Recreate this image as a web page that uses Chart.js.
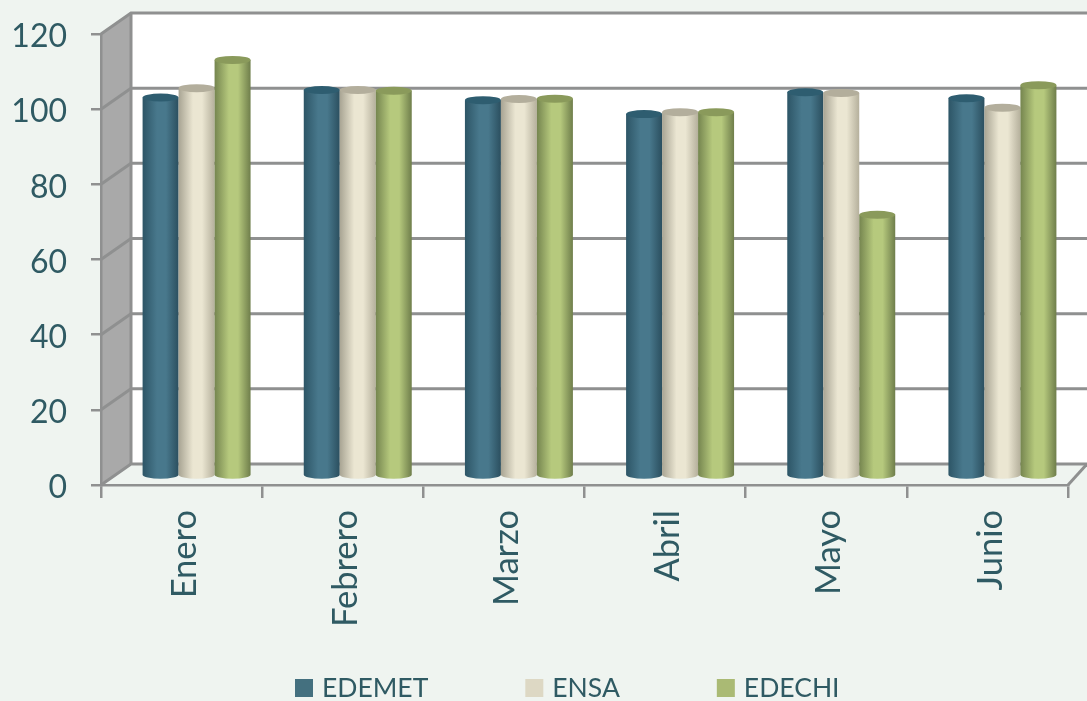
<!DOCTYPE html>
<html>
<head>
<meta charset="utf-8">
<title>Chart</title>
<script src="https://cdn.jsdelivr.net/npm/chart.js@4"></script>
<style>
    html, body { margin: 0; padding: 0; background: #eff4f0; overflow: hidden; }
    canvas { display: block; }
</style>
</head>
<body>
<canvas id="barTes" width="1087" height="701"></canvas>
<script>
var categories = ["Enero", "Febrero", "Marzo", "Abril", "Mayo", "Junio"];
var seriesNames = ["EDEMET", "ENSA", "EDECHI"];
var edemet = [100.7, 102.7, 100, 96.3, 102.1, 100.5];
var ensa = [103.2, 102.7, 100.3, 96.8, 101.9, 98];
var edechi = [110.7, 102.5, 100.4, 96.8, 69.5, 104];
var yTicks = [0, 20, 40, 60, 80, 100, 120];

var legendColors = ["#44707f", "#ddd8c4", "#aaba74"];
// left edge, middle, right edge, top cap
var cylinderColors = [
    ["#2d5566", "#48788c", "#2b4f5f", "#2e5d70"],
    ["#a8a493", "#ebe6d2", "#b5b09c", "#b3ae9c"],
    ["#75854f", "#b6c97d", "#6f7e4b", "#8a9a5b"]
];
var textColor = "#2f5a63";
var lineColor = "#8f9090";
var wallX = 30;
var wallY = 21;
var barShiftX = 15;
var barShiftY = 9;

var wallPlugin = {
    id: "wall",
    beforeDraw: function (chart) {
        var ctx = chart.ctx;
        var yScale = chart.scales.y;
        var area = chart.chartArea;
        var width = chart.width;

        ctx.save();
        ctx.fillStyle = "#eff4f0";
        ctx.fillRect(0, 0, width, chart.height);

        // back wall
        ctx.fillStyle = "#ffffff";
        ctx.fillRect(area.left + wallX, area.top - wallY, width, area.bottom - area.top);

        // floor
        ctx.fillStyle = "#eff4f0";
        ctx.beginPath();
        ctx.moveTo(area.left, area.bottom);
        ctx.lineTo(area.left + wallX, area.bottom - wallY);
        ctx.lineTo(width, area.bottom - wallY);
        ctx.lineTo(area.right, area.bottom);
        ctx.closePath();
        ctx.fill();

        // side wall
        ctx.fillStyle = "#a9a9a9";
        ctx.beginPath();
        ctx.moveTo(area.left, area.top);
        ctx.lineTo(area.left + wallX, area.top - wallY);
        ctx.lineTo(area.left + wallX, area.bottom - wallY);
        ctx.lineTo(area.left, area.bottom);
        ctx.closePath();
        ctx.fill();

        ctx.strokeStyle = lineColor;
        ctx.lineWidth = 3;
        eachItem(yTicks, function (value) {
            var y = yScale.getPixelForValue(value);
            ctx.beginPath();
            ctx.moveTo(area.left, y);
            ctx.lineTo(area.left + wallX, y - wallY);
            ctx.lineTo(width, y - wallY);
            ctx.stroke();
        });

        ctx.beginPath();
        ctx.moveTo(area.left + wallX, area.top - wallY);
        ctx.lineTo(area.left + wallX, area.bottom - wallY);
        ctx.stroke();

        ctx.beginPath();
        ctx.moveTo(width, area.bottom - wallY);
        ctx.lineTo(area.right, area.bottom);
        ctx.stroke();
        ctx.restore();
    },
    beforeDatasetsDraw: function (chart) {
        var ctx = chart.ctx;

        ctx.save();
        ctx.translate(barShiftX, -barShiftY);
        // left bar first so the next one sits over it
        eachItem(chart.data.datasets, function (dataset, i) {
            eachItem(chart.getDatasetMeta(i).data, function (bar) {
                drawCylinder(ctx, bar, cylinderColors[i]);
            });
        });
        ctx.restore();
    },
    beforeDatasetDraw: function () {
        return false;
    },
    afterDraw: function (chart) {
        drawLegend(chart);
    }
};

function eachItem(list, fn) {
    for (var i = 0; i < list.length; i++) {
        fn(list[i], i);
    }
}

function noScalePadding(scale) {
    scale.paddingTop = 0;
    scale.paddingBottom = 0;
    scale.paddingLeft = 0;
    scale.paddingRight = 0;
}

function drawCylinder(ctx, bar, colors) {
    var rx = bar.width / 2;
    var ry = 4;
    var left = bar.x - rx;
    var right = bar.x + rx;

    var gradient = ctx.createLinearGradient(left, 0, right, 0);
    gradient.addColorStop(0, colors[0]);
    gradient.addColorStop(0.4, colors[1]);
    gradient.addColorStop(0.65, colors[1]);
    gradient.addColorStop(1, colors[2]);

    ctx.fillStyle = gradient;
    ctx.beginPath();
    ctx.moveTo(left, bar.y);
    ctx.lineTo(left, bar.base);
    ctx.ellipse(bar.x, bar.base, rx, ry, 0, Math.PI, 0, true);
    ctx.lineTo(right, bar.y);
    ctx.closePath();
    ctx.fill();

    ctx.fillStyle = colors[3];
    ctx.beginPath();
    ctx.ellipse(bar.x, bar.y, rx, ry, 0, 0, Math.PI * 2);
    ctx.fill();
}

function drawLegend(chart) {
    var ctx = chart.ctx;
    var boxSize = 18;
    var textGap = 9;
    var itemGap = 97;
    var x = 295;
    var y = 679;

    ctx.save();
    ctx.font = "26.5px Lato";
    ctx.textBaseline = "middle";
    eachItem(chart.data.datasets, function (dataset, i) {
        ctx.fillStyle = legendColors[i];
        ctx.fillRect(x, y, boxSize, boxSize);
        x += boxSize + textGap;
        ctx.fillStyle = textColor;
        ctx.fillText(dataset.label, x, y + boxSize / 2);
        x += ctx.measureText(dataset.label).width + itemGap;
    });
    ctx.restore();
}

function initBarChart() {
    var canvas = document.getElementById("barTes");
    var ctx = canvas.getContext("2d");

    var seriesValues = [edemet, ensa, edechi];
    var datasets = [];
    for (var i = 0; i < seriesNames.length; i++) {
        datasets.push({
            label: seriesNames[i],
            data: seriesValues[i],
            backgroundColor: legendColors[i],
            categoryPercentage: 0.67,
            barPercentage: 1
        });
    }

    var options = {
        responsive: false,
        animation: false,
        layout: {
            padding: { top: 34, right: 19, left: 0, bottom: 0 }
        },
        plugins: {
            legend: { display: false },
            tooltip: { enabled: false }
        },
        scales: {
            x: {
                afterFit: function (scale) {
                    scale.height = 216;
                    noScalePadding(scale);
                },
                grid: {
                    drawOnChartArea: false,
                    color: lineColor,
                    lineWidth: 2.5,
                    tickLength: 13
                },
                border: { color: lineColor, width: 2.5 },
                ticks: {
                    color: textColor,
                    font: { family: "Lato", size: 34.5 },
                    minRotation: 90,
                    maxRotation: 90,
                    padding: 12,
                    labelOffset: 3
                }
            },
            y: {
                min: 0,
                max: 120,
                afterFit: function (scale) {
                    scale.width = 101;
                    noScalePadding(scale);
                },
                afterBuildTicks: function (scale) {
                    scale.ticks = yTicks.map(function (v) { return { value: v }; });
                },
                grid: {
                    drawOnChartArea: false,
                    color: lineColor,
                    lineWidth: 2.5,
                    tickLength: 10
                },
                border: { color: lineColor, width: 2.5 },
                ticks: {
                    color: textColor,
                    font: { family: "Lato", size: 32 },
                    padding: 24,
                    labelOffset: 3
                }
            }
        }
    };

    new Chart(ctx, {
        type: "bar",
        data: { labels: categories, datasets: datasets },
        options: options,
        plugins: [wallPlugin]
    });
}

initBarChart();
</script>
</body>
</html>
